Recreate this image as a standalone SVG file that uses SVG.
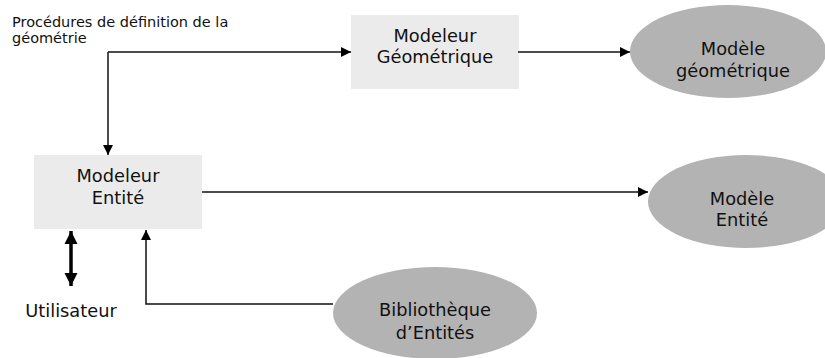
<svg xmlns="http://www.w3.org/2000/svg" width="825" height="358" viewBox="0 0 825 358">
<style>
text{font-family:"DejaVu Sans",Verdana,sans-serif;fill:#111;text-anchor:middle}
.big{font-size:17.8px}
.small{font-size:14.5px;text-anchor:start}
.box{fill:#ebebeb}
.ell{fill:#b3b3b3}
.ln{fill:none;stroke:#111;stroke-width:1.5}
.thick{fill:none;stroke:#000;stroke-width:3.5}
</style>
<defs>
<marker id="ah" viewBox="0 0 10 10" refX="10" refY="5" markerWidth="12" markerHeight="10" markerUnits="userSpaceOnUse" orient="auto"><path d="M0,0L10,5L0,10Z" fill="#000"/></marker>
<marker id="ahT" viewBox="0 0 10 10" refX="10" refY="5" markerWidth="13" markerHeight="14" markerUnits="userSpaceOnUse" orient="auto-start-reverse"><path d="M0,0L10,5L0,10Z" fill="#000"/></marker>
</defs>
<text class="small" x="12" y="27">Procédures de définition de la</text>
<text class="small" x="12" y="43">géométrie</text>
<g id="modeleur-geometrique">
<rect class="box" x="351" y="15" width="168" height="74"/>
<text class="big" x="435" y="42">Modeleur</text>
<text class="big" x="435" y="63">Géométrique</text>
</g>
<g id="modele-geometrique">
<ellipse class="ell" cx="728" cy="51.5" rx="98" ry="46.5"/>
<text class="big" x="733" y="55">Modèle</text>
<text class="big" x="733" y="77">géométrique</text>
</g>
<g id="modeleur-entite">
<rect class="box" x="34" y="155" width="168" height="74"/>
<text class="big" x="118" y="182">Modeleur</text>
<text class="big" x="118" y="204">Entité</text>
</g>
<g id="modele-entite">
<ellipse class="ell" cx="746" cy="201.5" rx="98" ry="46.5"/>
<text class="big" x="742" y="205">Modèle</text>
<text class="big" x="742" y="226">Entité</text>
</g>
<g id="bibliotheque">
<ellipse class="ell" cx="435" cy="313" rx="102" ry="46"/>
<text class="big" x="435" y="316">Bibliothèque</text>
<text class="big" x="435" y="339">d’Entités</text>
</g>
<g id="utilisateur">
<text class="big" x="71" y="317">Utilisateur</text>
</g>
<g id="connectors">
<path class="ln" d="M108,52H351" marker-end="url(#ah)"/>
<path class="ln" d="M108,52V155" marker-end="url(#ah)"/>
<path class="ln" d="M518,52H630" marker-end="url(#ah)"/>
<path class="ln" d="M202,192H648" marker-end="url(#ah)"/>
<path class="ln" d="M333,304H146V230" marker-end="url(#ah)"/>
<path class="thick" d="M71,231V286" marker-start="url(#ahT)" marker-end="url(#ahT)"/>
</g>
</svg>
